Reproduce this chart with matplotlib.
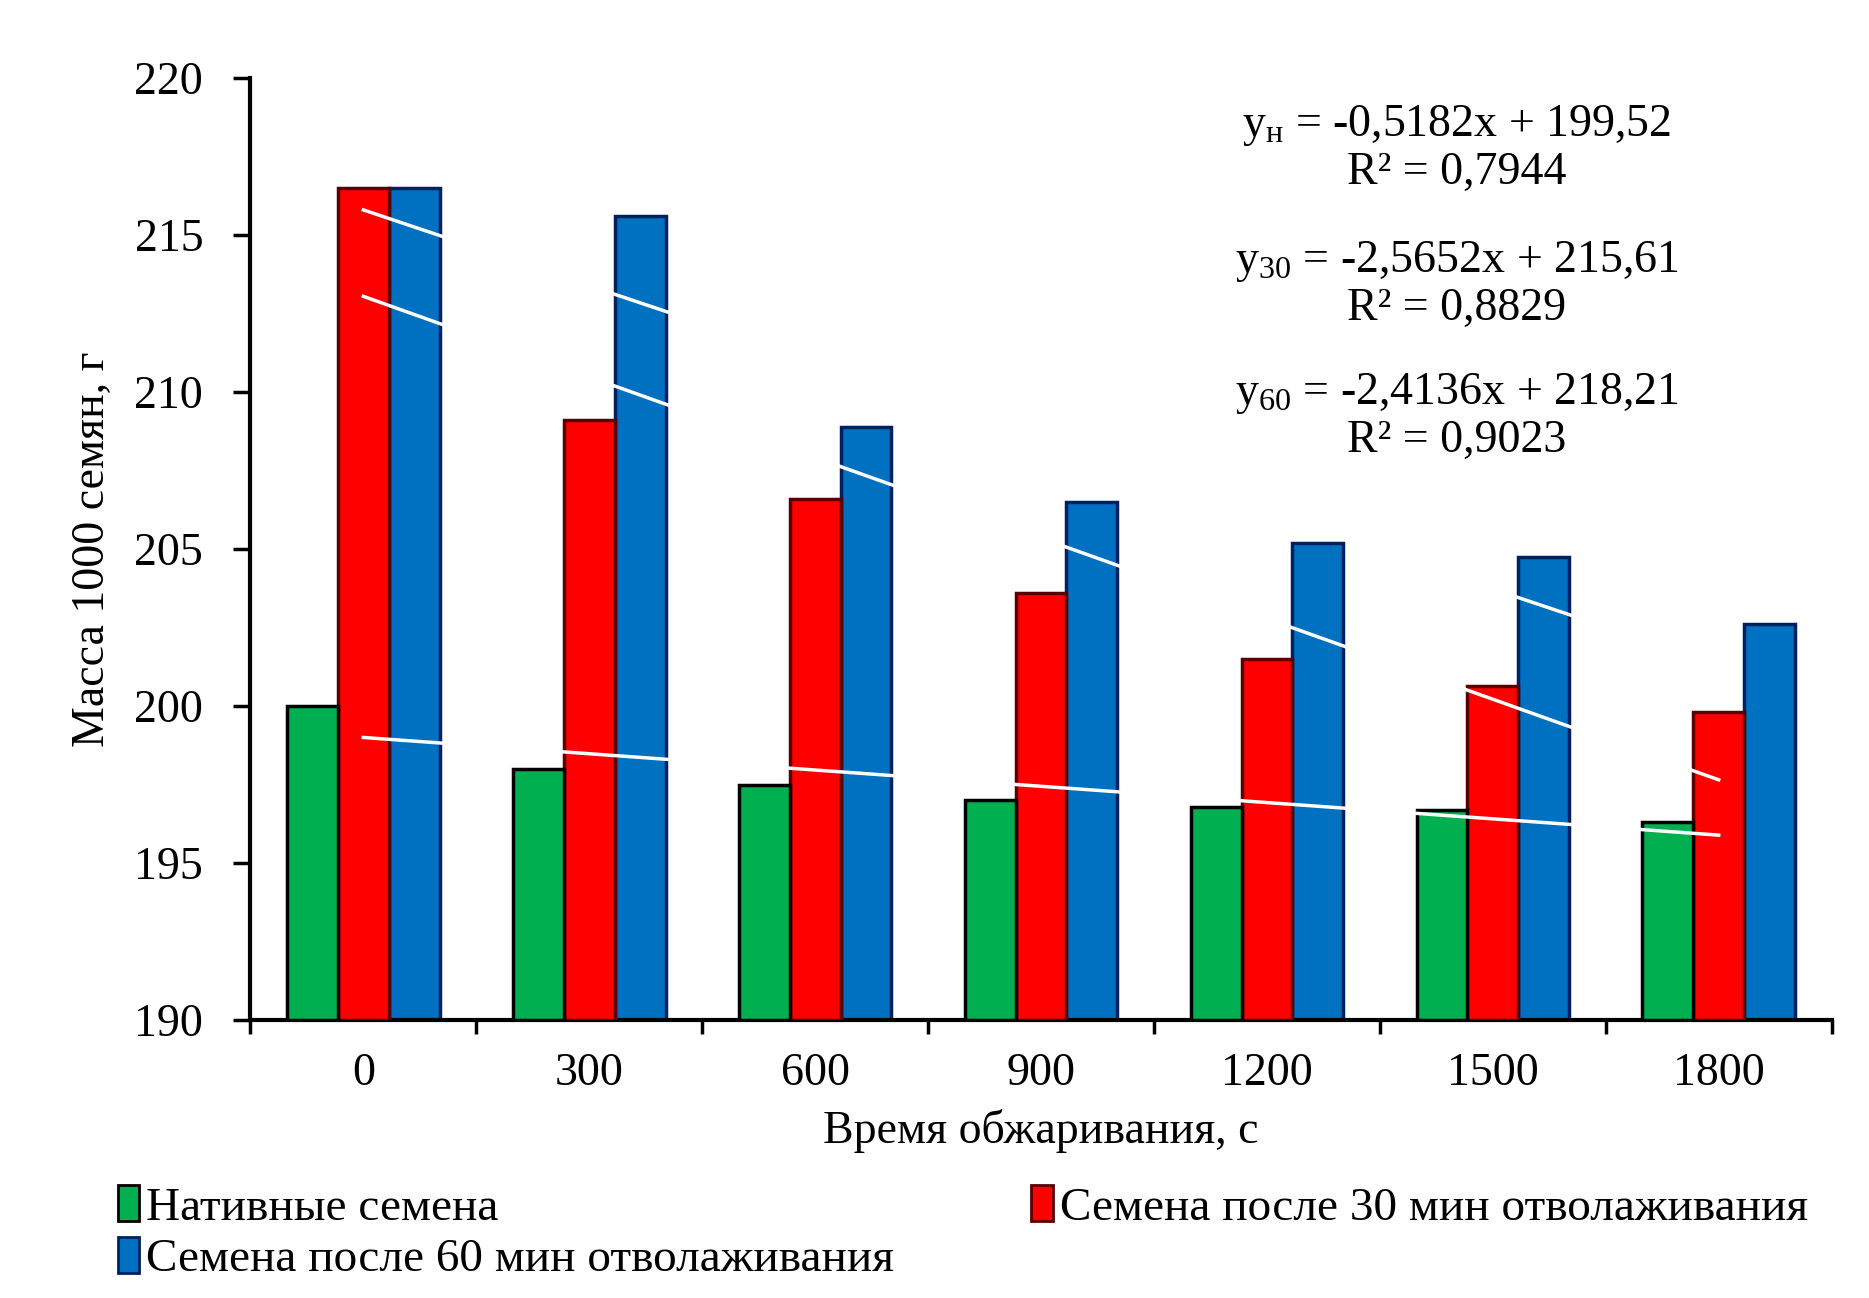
import matplotlib
matplotlib.use("Agg")
import matplotlib.pyplot as plt
from matplotlib.patches import Patch
import numpy as np

plt.rcParams['font.family'] = ['Liberation Serif', 'DejaVu Serif']
plt.rcParams['mathtext.fontset'] = 'custom'
plt.rcParams['mathtext.rm'] = 'Liberation Serif'
plt.rcParams['mathtext.it'] = 'Liberation Serif:italic'

# Время обжаривания, с
times = ["0", "300", "600", "900", "1200", "1500", "1800"]

# Масса 1000 семян, г
native = [200.0, 198.0, 197.5, 197.0, 196.8, 196.7, 196.3]
after30 = [216.5, 209.1, 206.6, 203.6, 201.5, 200.65, 199.8]
after60 = [216.5, 215.6, 208.9, 206.5, 205.2, 204.75, 202.6]

# линейные тренды y = k*x + b (x = номер точки, 1..7)
trend_k = [-0.5182, -2.5652, -2.4136]
trend_b = [199.52, 215.61, 218.21]
trend_r2 = ["0,7944", "0,8829", "0,9023"]
trend_names = ["н", "30", "60"]

labels = ["Нативные семена",
          "Семена после 30 мин отволаживания",
          "Семена после 60 мин отволаживания"]
colors = ["#00B050", "#FF0000", "#0070C0"]
edges = ["#000000", "#5A0000", "#002060"]

FS = 33

fig = plt.figure(figsize=(18.69, 12.98), dpi=100)
ax = fig.add_axes([0.134, 0.214, 0.846, 0.726])

x = np.arange(len(times))
w = 0.225

# синие снизу, потом красные, потом зелёные
ax.bar(x + w, np.array(after60) - 190, w, bottom=190, color=colors[2],
       edgecolor=edges[2], linewidth=2.5, zorder=2)
ax.bar(x, np.array(after30) - 190, w, bottom=190, color=colors[1],
       edgecolor=edges[1], linewidth=2.5, zorder=3)
ax.bar(x - w, np.array(native) - 190, w, bottom=190, color=colors[0],
       edgecolor=edges[0], linewidth=2.5, zorder=4)

# линии тренда (белые, видны только на столбцах)
n = np.arange(1, len(times) + 1)
for k, b in zip(trend_k, trend_b):
    ax.plot(x, k * n + b, color="white", linewidth=2.5, zorder=5)

# уравнения трендов
eq_y = [0.925, 0.781, 0.641]
for name, k, b, r2, yy in zip(trend_names, trend_k, trend_b, trend_r2, eq_y):
    ks = f"{k:.4f}".replace(".", ",")
    bs = f"{b:.2f}".replace(".", ",")
    txt = "y$_{\\mathregular{" + name + "}}$ = " + ks + "x + " + bs + "\nR² = " + r2
    ax.text(0.763, yy, txt, transform=ax.transAxes, ha="center", va="center",
            fontsize=FS, linespacing=1.1, zorder=6)

ax.set_ylim(190, 220)
ax.set_yticks(np.arange(190, 221, 5))
ax.set_xlim(-0.5, len(times) - 0.5)
ax.set_xticks(np.arange(-0.5, len(times), 1.0))
ax.set_xticklabels([])
ax.set_xticks(x, minor=True)
ax.set_xticklabels(times, minor=True)
ax.tick_params(axis="x", which="minor", length=0, pad=23, labelsize=FS)
ax.tick_params(axis="x", which="major", length=10, width=2.5, direction="out")
ax.tick_params(axis="y", length=12, width=2.5, direction="out", labelsize=FS, pad=22)

for side in ["top", "right"]:
    ax.spines[side].set_visible(False)
for side in ["left", "bottom"]:
    ax.spines[side].set_linewidth(3)

ax.set_xlabel("Время обжаривания, с", fontsize=FS, labelpad=10)
ax.set_ylabel("Масса 1000 семян, г", fontsize=FS, labelpad=15)

handles = [Patch(facecolor=colors[i], edgecolor=edges[i], linewidth=2) for i in range(3)]
order = [0, 2, 1]
fig.legend([handles[i] for i in order], [labels[i] for i in order],
           loc="lower left", bbox_to_anchor=(0.048, -0.009), ncol=2, frameon=False,
           fontsize=34, handlelength=0.45, handleheight=0.8, handletextpad=0.15,
           columnspacing=2.9, labelspacing=0.15, borderaxespad=0.2)

fig.savefig("out.png", dpi=100)
